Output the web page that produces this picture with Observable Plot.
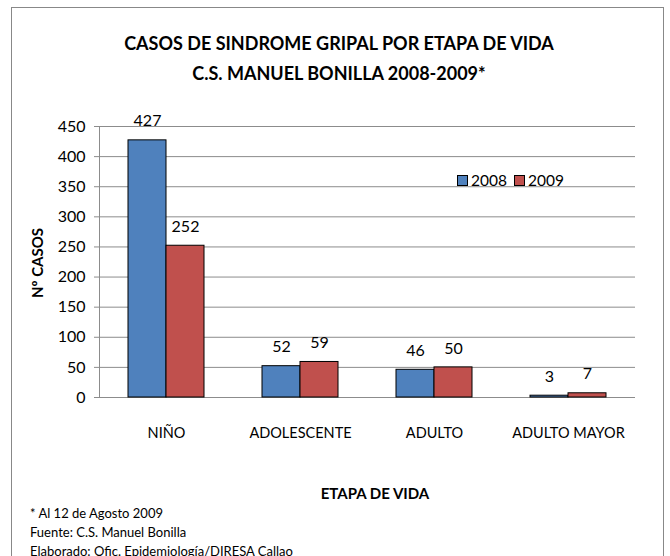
<!DOCTYPE html>
<html>
<head>
<meta charset="utf-8">
<script src="https://cdn.jsdelivr.net/npm/d3@7"></script>
<script src="https://cdn.jsdelivr.net/npm/@observablehq/plot@0.6"></script>
<style>
  html, body { margin: 0; padding: 0; background: #fff; }
  #wrap { position: relative; width: 670px; height: 556px; overflow: hidden; font-family: Lato, sans-serif; color: #000; }
  #frame { position: absolute; left: 11px; top: 7px; width: 653px; height: 600px; border: 1px solid #888; box-sizing: border-box; }
  #chart { position: absolute; left: 0; top: 0; }
  .t { position: absolute; white-space: nowrap; }
  .title { left: 0; width: 678px; text-align: center; font-weight: bold; font-size: 18px; }
  .foot { left: 30px; font-size: 13px; }
  .leg { position: absolute; top: 171px; left: 457px; font-size: 15.5px; display: flex; align-items: center; }
  .sw { display: inline-block; width: 9px; height: 9px; border: 1px solid #000; margin-right: 3px; }
</style>
</head>
<body>
<div id="wrap">
  <div id="frame"></div>
  <div id="chart"></div>
  <div class="t title" style="top:32px">CASOS DE SINDROME GRIPAL POR ETAPA DE VIDA</div>
  <div class="t title" style="top:62px">C.S. MANUEL BONILLA 2008-2009*</div>
  <div class="t" style="left:375px; top:484px; font-weight:bold; font-size:15px; transform:translateX(-50%)">ETAPA DE VIDA</div>
  <div class="t" style="left:37px; top:263px; font-weight:bold; font-size:15px; transform:translate(-50%,-50%) rotate(-90deg)">Nº CASOS</div>
  <div class="t foot" style="top:505px">* Al 12 de Agosto 2009</div>
  <div class="t foot" style="top:524px">Fuente: C.S. Manuel Bonilla</div>
  <div class="t foot" style="top:543px">Elaborado: Ofic. Epidemiología/DIRESA Callao</div>
  <div class="leg" id="legend"></div>
</div>
<script>
const categories = ["NIÑO", "ADOLESCENTE", "ADULTO", "ADULTO MAYOR"];
const years = ["2008", "2009"];
const values2008 = [427, 52, 46, 3];
const values2009 = [252, 59, 50, 7];
const colors = ["#4F81BD", "#C0504D"];
const yTicks = [0, 50, 100, 150, 200, 250, 300, 350, 400, 450];

const data = [];
categories.forEach((c, i) => {
  data.push({cat: c, year: years[0], value: values2008[i]});
  data.push({cat: c, year: years[1], value: values2009[i]});
});

const plot = Plot.plot({
  width: 670,
  height: 556,
  marginTop: 126,
  marginBottom: 159,
  marginLeft: 98,
  marginRight: 34,
  style: {fontFamily: 'Lato, sans-serif', fontSize: "16px", color: "#000", background: "transparent"},
  fx: {domain: categories, padding: 0, label: null},
  x: {domain: years, paddingInner: 0, paddingOuter: 0.75, axis: null},
  y: {domain: [0, 450], label: null},
  color: {domain: years, range: colors},
  marks: [
    Plot.ruleY(yTicks, {stroke: "#8c8c8c", strokeWidth: 1}),
    Plot.frame({anchor: "left", facetAnchor: "left", stroke: "#8c8c8c"}),
    Plot.axisY({ticks: yTicks, tickSize: 5, tickPadding: 9, stroke: "#8c8c8c", fontSize: 16, tickFormat: d => String(d), label: null}),
    Plot.axisFx({anchor: "bottom", tickSize: 0, tickPadding: 30, fontSize: 14.5, label: null}),
    Plot.barY(data, {fx: "cat", x: "year", y: "value", fill: "year", stroke: "#000", strokeWidth: 1}),
    Plot.text(data, {fx: "cat", x: "year", y: "value", text: d => String(d.value), dy: -19, fontSize: 16, fill: "#000"})
  ]
});
document.getElementById("chart").appendChild(plot);

const leg = document.getElementById("legend");
years.forEach((y, i) => {
  const sw = document.createElement("span");
  sw.className = "sw";
  sw.style.background = colors[i];
  const tx = document.createElement("span");
  tx.textContent = y;
  tx.style.marginRight = i === 0 ? "7px" : "0";
  leg.appendChild(sw);
  leg.appendChild(tx);
});
</script>
</body>
</html>
